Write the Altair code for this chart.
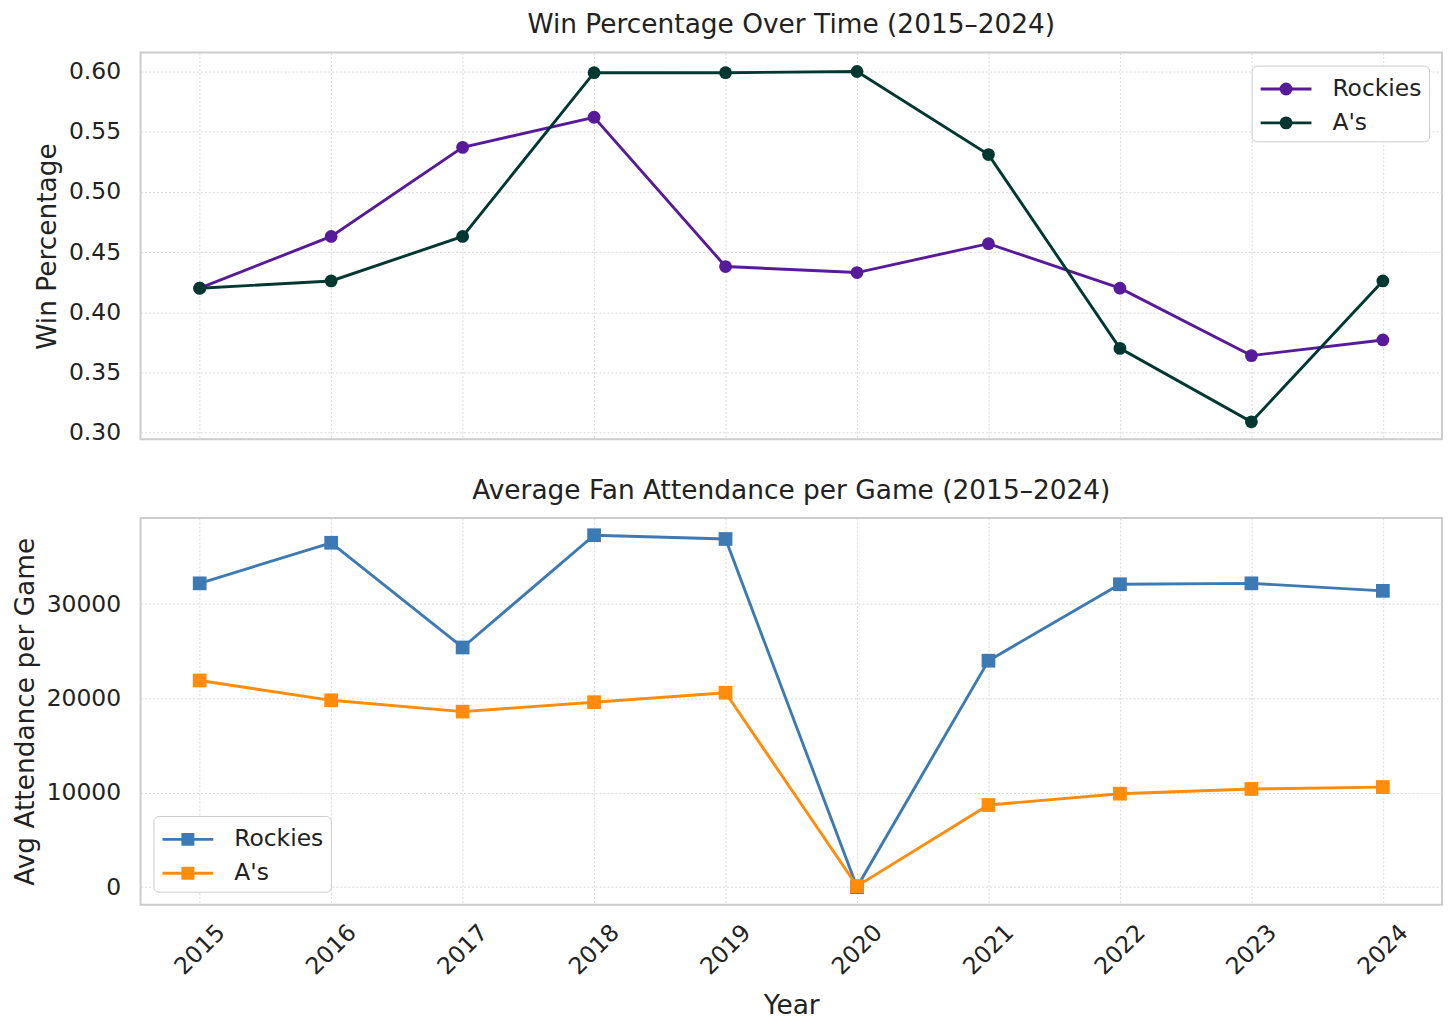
import altair as alt
import pandas as pd

years = [2015, 2016, 2017, 2018, 2019, 2020, 2021, 2022, 2023, 2024]
rockies_win = [0.420, 0.463, 0.537, 0.562, 0.438, 0.433, 0.457, 0.420, 0.364, 0.377]
as_win = [0.420, 0.426, 0.463, 0.599, 0.599, 0.600, 0.531, 0.370, 0.309, 0.426]
rockies_att = [32200, 36500, 25400, 37300, 36900, 0, 24000, 32100, 32200, 31400]
as_att = [21900, 19800, 18600, 19600, 20600, 100, 8700, 9900, 10400, 10600]
teams = ["Rockies", "A's"]

win_df = pd.DataFrame({
    "Year": years * 2,
    "Win": rockies_win + as_win,
    "Team": [teams[0]] * len(years) + [teams[1]] * len(years),
})
att_df = pd.DataFrame({
    "Year": years * 2,
    "Att": rockies_att + as_att,
    "Team": [teams[0]] * len(years) + [teams[1]] * len(years),
})

FONT = "DejaVu Sans"
W, H = 1306, 388
TXT = "#222222"

# legend symbols: line with filled marker (filled via concentric strokes)
L = 1.7
circ = f"M-{L},0 L{L},0 " + " ".join(
    f"M{r},0 A{r},{r} 0 1,1 -{r},0 A{r},{r} 0 1,1 {r},0" for r in [0.34, 0.22, 0.10]
)
sq = f"M-{L},0 L{L},0 " + " ".join(
    f"M-{r},-{r} L{r},-{r} L{r},{r} L-{r},{r} Z" for r in [0.34, 0.22, 0.10]
)


def legend(orient, sym):
    return alt.Legend(
        title=None, orient=orient, offset=13, symbolType=sym, symbolSize=900,
        symbolStrokeWidth=2.8, labelFontSize=23.5, labelFont=FONT, rowPadding=6,
        fillColor="white", strokeColor="#cccccc", padding=7, cornerRadius=5,
        symbolOffset=11, labelOffset=30, labelColor=TXT,
    )


xscale = alt.Scale(domain=[2014.55, 2024.45], nice=False, zero=False)

top_base = alt.Chart(win_df).encode(
    x=alt.X("Year:Q", scale=xscale,
            axis=alt.Axis(values=years, labels=False, title=None, ticks=False, domain=False)),
    y=alt.Y("Win:Q", scale=alt.Scale(domain=[0.2945, 0.6157], nice=False, zero=False),
            axis=alt.Axis(values=[0.30, 0.35, 0.40, 0.45, 0.50, 0.55, 0.60], format=".2f",
                          title="Win Percentage", titlePadding=7)),
    color=alt.Color("Team:N", scale=alt.Scale(domain=teams, range=["#561A9A", "#003831"]),
                    legend=legend("top-right", circ)),
    detail="Team:N",
)
top = alt.layer(
    top_base.mark_line(strokeWidth=2.9),
    top_base.mark_point(filled=True, size=165, opacity=1, shape="circle"),
).properties(
    width=W, height=H,
    title=alt.TitleParams("Win Percentage Over Time (2015–2024)", fontSize=26.5, font=FONT,
                          fontWeight="normal", color=TXT, offset=14),
)

bot_base = alt.Chart(att_df).encode(
    x=alt.X("Year:Q", scale=xscale,
            axis=alt.Axis(values=years, format="d", title="Year", labelAngle=-45,
                          labelAlign="center", labelBaseline="middle", labelPadding=45,
                          titlePadding=14)),
    y=alt.Y("Att:Q", scale=alt.Scale(domain=[-1863, 39126], nice=False, zero=False),
            axis=alt.Axis(values=[0, 10000, 20000, 30000], format="d",
                          title="Avg Attendance per Game", titlePadding=7)),
    color=alt.Color("Team:N", scale=alt.Scale(domain=teams, range=["#3D7AB3", "#FF8C0A"]),
                    legend=legend("bottom-left", sq)),
    detail="Team:N",
)
bot = alt.layer(
    bot_base.mark_line(strokeWidth=2.9),
    bot_base.mark_point(filled=True, size=190, opacity=1, shape="square"),
).properties(
    width=W, height=H,
    title=alt.TitleParams("Average Fan Attendance per Game (2015–2024)", fontSize=26.5, font=FONT,
                          fontWeight="normal", color=TXT, offset=14),
)

chart = alt.vconcat(top, bot, spacing=31).resolve_scale(color="independent").configure(
    font=FONT, padding={"left": 3, "top": 1, "right": 5, "bottom": 5}
).configure_view(
    stroke="#cccccc", strokeWidth=2
).configure_axis(
    labelFont=FONT, titleFont=FONT, labelFontSize=23.5, titleFontSize=26.5,
    titleFontWeight="normal", labelColor=TXT, titleColor=TXT,
    grid=True, gridColor="#d9d9d9", gridDash=[2, 2], gridWidth=1,
    ticks=False, tickSize=0, domain=False, labelPadding=20,
)

chart.save("out.html", embed_options={"renderer": "svg", "actions": False})
